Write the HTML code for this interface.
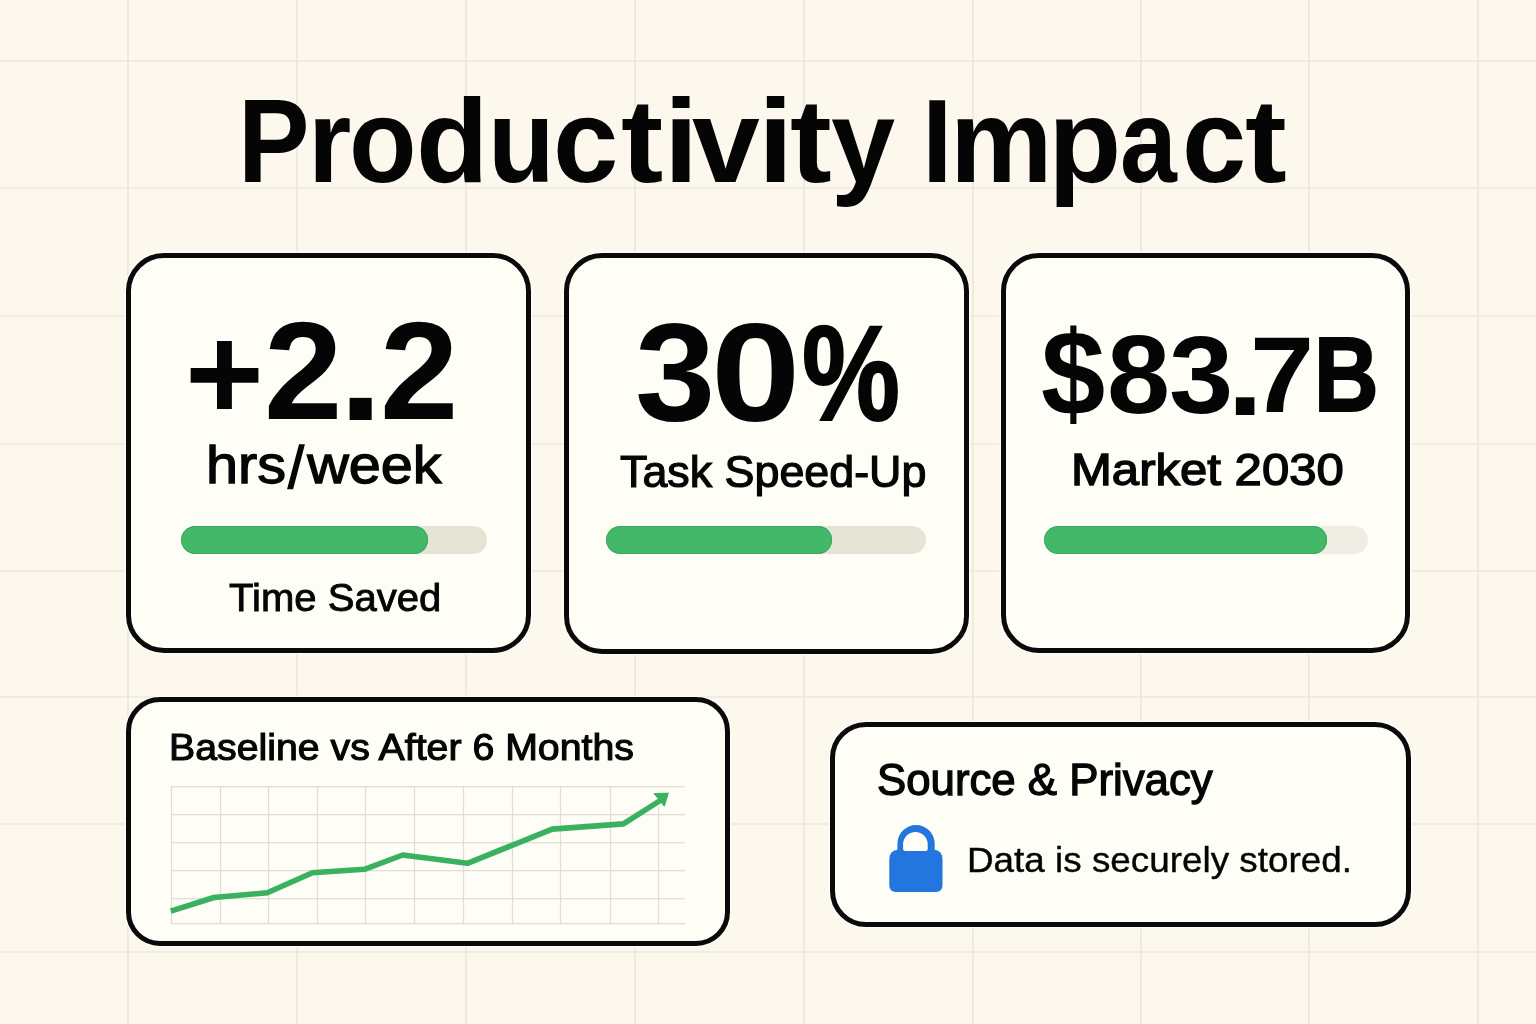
<!DOCTYPE html>
<html lang="en"><head><meta charset="utf-8"><title>Productivity Impact</title>
<style>
html,body{margin:0;padding:0}
body{width:1536px;height:1024px;overflow:hidden;position:relative;background:#fcf8ed;font-family:"Liberation Sans",Arial,sans-serif;color:#050505}
.bg{position:absolute;left:0;top:0;width:1536px;height:1024px}
.card{position:absolute;box-sizing:border-box;border:5px solid #0a0a0a;border-radius:38px;background:#fefdf6;box-shadow:0 0 0 1.5px rgba(255,254,248,.75)}
.t{position:absolute;white-space:pre;line-height:1;transform-origin:0 0;color:#050505}
.big{position:absolute;left:0;top:0;font-weight:bold;line-height:1;white-space:pre;color:#050505}
.big span{position:absolute;transform-origin:0 0;display:block}
.bar{position:absolute;height:28px;border-radius:14px;background:#e6e3d7;overflow:hidden}
.bar i{display:block;height:100%;border-radius:14px;background:#43b868;box-shadow:inset 0 0 0 1px #36aa5c}
svg{position:absolute;overflow:visible}
</style></head><body>
<svg class="bg" width="1536" height="1024" viewBox="0 0 1536 1024">
<g stroke="#ebe8dc" stroke-width="1.7" fill="none">
<path d="M128 0V1024M297 0V1024M466 0V1024M635 0V1024M804 0V1024M973 0V1024M1141 0V1024M1309 0V1024M1478 0V1024"/>
<path d="M0 61H1536M0 188H1536M0 316H1536M0 444H1536M0 571H1536M0 697H1536M0 824H1536M0 952H1536"/>
</g></svg>

<h1 class="big" style="margin:0;font-size:119.53px;top:81.4px"><span style="left:237.58px;transform:scaleX(0.8967)">P</span><span style="left:308.04px;transform:scaleX(0.932)">r</span><span style="left:349.11px;transform:scaleX(0.9252)">o</span><span style="left:416.04px;transform:scaleX(0.9917)">d</span><span style="left:487.9px;transform:scaleX(0.913)">u</span><span style="left:552.57px;transform:scaleX(0.9845)">c</span><span style="left:621.41px;transform:scaleX(1.0612)">t</span><span style="left:664.0px;transform:scaleX(1.0303)">i</span><span style="left:692.49px;transform:scaleX(1.0192)">v</span><span style="left:758.25px;transform:scaleX(1.0606)">i</span><span style="left:790.43px;transform:scaleX(1.0476)">t</span><span style="left:831.03px;transform:scaleX(0.9653)">y</span><span style="left:900px;transform:scaleX(1)"> </span><span style="left:922.07px;transform:scaleX(0.9159)">I</span><span style="left:949.79px;transform:scaleX(0.9642)">m</span><span style="left:1048.25px;transform:scaleX(1.0)">p</span><span style="left:1120.01px;transform:scaleX(0.8549)">a</span><span style="left:1181.66px;transform:scaleX(0.9657)">c</span><span style="left:1245.43px;transform:scaleX(1.0476)">t</span></h1>

<section class="card" style="left:125.7px;top:253px;width:405.3px;height:400.4px"></section>
<section class="card" style="left:564px;top:253px;width:405.3px;height:400.6px"></section>
<section class="card" style="left:1001px;top:253px;width:409px;height:400px"></section>
<section class="card" style="left:125.6px;top:696.5px;width:604.9px;height:249.5px;border-radius:34px"></section>
<section class="card" style="left:830px;top:722px;width:580.5px;height:205px;border-radius:36px"></section>

<div class="big" style="font-size:139px"><span style="left:184.77px;top:305.67px;transform:scale(0.9714,0.962)">+</span><span style="left:263.68px;top:302.41px;transform:scale(1.0142,0.9948)">2</span><span style="left:339.28px;top:294.5px;transform:scale(1.125,1.0619)">.</span><span style="left:379.93px;top:302.41px;transform:scale(1.0134,0.9948)">2</span></div>
<div class="t" style="left:206.48px;top:439.16px;font-size:52.57px;font-weight:normal;transform:scaleX(1.0953);-webkit-text-stroke:1.3px #050505;">hrs<span style="display:inline-block;margin:0 .055em 0 .035em;transform:translateY(.05em) scaleY(1.12)">/</span>week</div>
<div class="bar" style="left:180.7px;top:526px;width:306.6px"><i style="width:247.6px"></i></div>
<div class="t" style="left:228.68px;top:578.17px;font-size:39.71px;font-weight:normal;transform:scaleX(1.0091);-webkit-text-stroke:0.9px #050505;">Time Saved</div>

<div class="big" style="font-size:140px"><span style="left:634.51px;top:302.3px;transform:scale(1.0314,1.0)">3</span><span style="left:710.82px;top:303.3px;transform:scale(1.147,1.0)">0</span><span style="left:802.24px;top:306.26px;transform:scale(0.7874,0.967);-webkit-text-stroke:2.0px #050505">%</span></div>
<div class="t" style="left:619.83px;top:449.84px;font-size:44.03px;font-weight:normal;transform:scaleX(1.0182);-webkit-text-stroke:1.2px #050505;">Task Speed-Up</div>
<div class="bar" style="left:606px;top:526px;width:320px"><i style="width:226px"></i></div>

<div class="big" style="font-size:108px"><span style="left:1040.76px;top:314.45px;transform:scale(1.0679,1.1136)">$</span><span style="left:1106.55px;top:320.18px;transform:scale(1.05,1.0263)">8</span><span style="left:1169.29px;top:321.41px;transform:scale(1.0698,1.013)">3</span><span style="left:1226.61px;top:314.5px;transform:scale(1.2125,1.1)">.</span><span style="left:1250.16px;top:320.93px;transform:scale(1.068,1.0041)">7</span><span style="left:1313.73px;top:322.36px;transform:scale(0.8279,0.9776);-webkit-text-stroke:2.2px #050505">B</span></div>
<div class="t" style="left:1070.86px;top:447.01px;font-size:45.23px;font-weight:normal;transform:scaleX(1.0851);-webkit-text-stroke:1.4px #050505;">Market 2030</div>
<div class="bar" style="left:1044px;top:526px;width:323.7px;background:#efede3"><i style="width:282.7px"></i></div>

<div class="t" style="left:169.37px;top:729.62px;font-size:36.5px;font-weight:normal;transform:scaleX(1.0759);-webkit-text-stroke:1.1px #050505;">Baseline vs After 6 Months</div>
<svg width="1536" height="1024" viewBox="0 0 1536 1024" style="left:0;top:0">
<g stroke="#e0ddd4" stroke-width="1.25" fill="none">
<path d="M171 786.5H685M171 814.5H685M171 842.5H685M171 870.5H685M171 898.5H685M171 923.5H685"/>
<path d="M171.5 786V924M220.5 786V924M268.5 786V924M317.5 786V924M365.5 786V924M414.5 786V924M463.5 786V924M512.5 786V924M560.5 786V924M610.5 786V924M658.5 806V924"/>
</g>
<polyline points="170.8,911.1 213.9,897.5 267.3,892.8 312.4,872.8 364.4,869.3 402.7,855 467.4,863.3 552.2,829.1 623.4,823.9 660.2,800.5" fill="none" stroke="#3ab160" stroke-width="5.6" stroke-linejoin="round"/>
<polygon points="668.3,793.2 654,793.5 664.3,806.2" fill="#3ab160" stroke="#3ab160" stroke-width="1" stroke-linejoin="round"/>
</svg>

<div class="t" style="left:877.18px;top:758.18px;font-size:43.93px;font-weight:normal;transform:scaleX(0.9966);-webkit-text-stroke:1.3px #050505;">Source &amp; Privacy</div>
<svg width="1536" height="1024" viewBox="0 0 1536 1024" style="left:0;top:0">
<path fill-rule="evenodd" fill="#2276de" d="M889.3 885.3V859Q889.3 851 897.4 849.8V843.75A18.65 18.65 0 0 1 934.7 843.75V849.8Q942.5 851 942.5 859V885.3Q942.5 891.9 935.9 891.9H895.9Q889.3 891.9 889.3 885.3ZM903.1 844.3A12.3 12.3 0 0 1 927.7 844.3V849Q927.7 850.9 925.7 850.9H905.1Q903.1 850.9 903.1 849Z"/>
</svg>
<div class="t" style="left:967.13px;top:842.81px;font-size:35.75px;font-weight:normal;transform:scaleX(1.0306);-webkit-text-stroke:0.4px #050505;">Data is securely stored.</div>
</body></html>
